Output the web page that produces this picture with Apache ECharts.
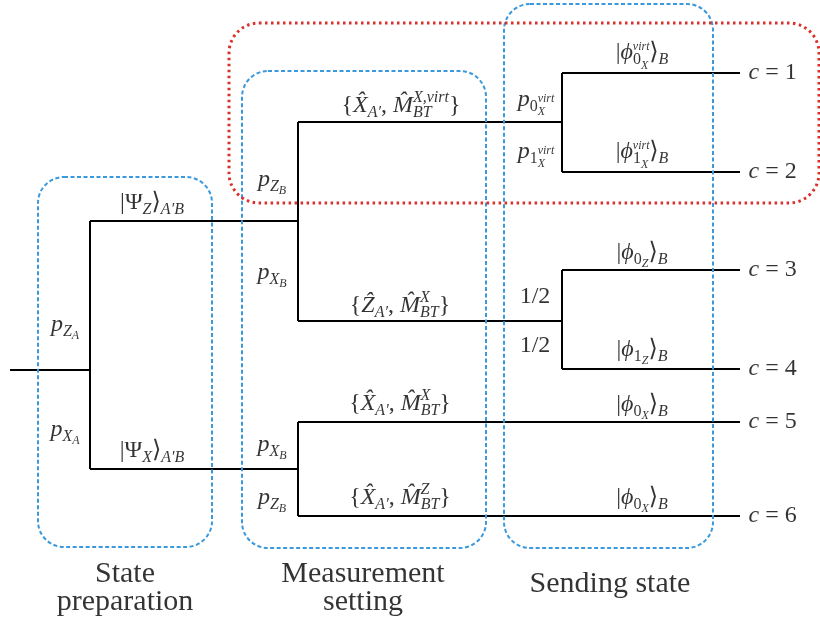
<!DOCTYPE html>
<html><head><meta charset="utf-8">
<script src="https://cdn.jsdelivr.net/npm/echarts@6/dist/echarts.min.js"></script>
<style>html,body{margin:0;padding:0;background:#fff}#c{width:820px;height:620px}</style>
</head><body><div id="c"></div>
<script>
// ---- data ----
const stageX = [10, 90, 298, 562, 740];            // root start, split 1, split 2, split 3, leaf end
const leafY = [73, 172, 270, 369, 422, 516];       // leaf rows c = 1..6
const leafLabels = ['1', '2', '3', '4', '5', '6'];
const tree = {y: 370, children: [
  {y: 221, children: [
    {y: 122, children: [{leaf: 0}, {leaf: 1}]},
    {y: 321, children: [{leaf: 2}, {leaf: 3}]}
  ]},
  {y: 469, children: [{leaf: 4}, {leaf: 5}]}
]};
const branchText = [
  '{r||Ψ}{s|Z}{r|⟩}{s|A′B}',
  '{r||Ψ}{s|X}{r|⟩}{s|A′B}',
  '{i|p}{s|Z}{ss|A}',
  '{i|p}{s|X}{ss|A}',
  '{r|{}{i|X̂}{s|A′}{r|, }{i|M̂}{sz|BT}{sp|X,virt}}',
  '{i|p}{s|Z}{ss|B}',
  '{i|p}{s|X}{ss|B}',
  '{r|{}{i|Ẑ}{s|A′}{r|, }{i|M̂}{spz|X}{s|BT}}',
  '{r|{}{i|X̂}{s|A′}{r|, }{i|M̂}{spz|X}{s|BT}}',
  '{i|p}{s|X}{ss|B}',
  '{i|p}{s|Z}{ss|B}',
  '{r|{}{i|X̂}{s|A′}{r|, }{i|M̂}{spz|Z}{s|BT}}',
  '{i|p}{sr|0}{ssz|X}{pv|virt}',
  '{i|p}{sr|1}{ssz|X}{pv|virt}',
  '{r||}{i|ϕ}{vz|virt}{sr|0}{ssp|X}{r|⟩}{s|B}',
  '{r||}{i|ϕ}{vz|virt}{sr|1}{ssp|X}{r|⟩}{s|B}',
  '{r|1/2}',
  '{r|1/2}',
  '{r||}{i|ϕ}{sr|0}{ss|Z}{r|⟩}{s|B}',
  '{r||}{i|ϕ}{sr|1}{ss|Z}{r|⟩}{s|B}',
  '{r||}{i|ϕ}{sr|0}{ss|X}{r|⟩}{s|B}',
  '{r||}{i|ϕ}{sr|0}{ss|X}{r|⟩}{s|B}'
];
const branchX = [152, 152, 65, 65, 401, 272, 272, 400, 400, 272, 272, 400, 536, 536, 642, 642, 535, 535, 642, 642, 642, 642];
const branchY = [203, 451, 325, 430, 106, 180, 273, 306, 404, 445, 498, 498, 100, 152, 53, 152, 297, 346, 253, 350, 405, 498];
const stageNames = ['State\npreparation', 'Measurement\nsetting', 'Sending state'];
const stageNameX = [125, 363, 610];
const stageNameY = [588, 588, 584];
// boxes: x1, y1, x2, y2, kind (0 = stage box, 1 = virtual group)
const boxes = [
  [38, 177, 212, 547, 0],
  [242, 71, 486, 548, 0],
  [504, 4, 713, 548, 0],
  [229, 23, 819, 203, 1]
];

// ---- build edges ----
const segs = [];
function yOf(n) { return n.leaf != null ? leafY[n.leaf] : n.y; }
function walk(node, depth, fromX) {
  const y = yOf(node);
  const endX = node.leaf != null ? stageX[stageX.length - 1] : stageX[depth + 1];
  segs.push({coords: [[fromX, y], [endX, y]]});
  if (node.children) {
    const ys = node.children.map(yOf);
    segs.push({coords: [[endX, Math.min(...ys)], [endX, Math.max(...ys)]]});
    node.children.forEach(c => walk(c, depth + 1, endX));
  }
}
walk(tree, 0, stageX[0]);

const F = '"Liberation Serif", "DejaVu Serif", serif';
const base = {fontFamily: F, color: '#000', align: 'left', verticalAlign: 'middle'};
const R = (o) => Object.assign({}, base, o);
const rich = {
  r: R({fontSize: 24}),
  i: R({fontSize: 24, fontStyle: 'italic'}),
  s: R({fontSize: 16, fontStyle: 'italic', padding: [13, 0, 0, 0]}),
  sr: R({fontSize: 16, padding: [13, 0, 0, 0]}),
  sz: R({fontSize: 16, fontStyle: 'italic', padding: [13, 0, 0, 0], width: 0.01}),
  sp: R({fontSize: 16, fontStyle: 'italic', padding: [0, 0, 16, 0]}),
  spz: R({fontSize: 16, fontStyle: 'italic', padding: [0, 0, 16, 0], width: 0.01}),
  ss: R({fontSize: 12, fontStyle: 'italic', padding: [22, 0, 0, 0]}),
  ssz: R({fontSize: 12, fontStyle: 'italic', padding: [23, 0, 0, 0], width: 0.01}),
  ssp: R({fontSize: 12, fontStyle: 'italic', padding: [25, 1, 0, 0]}),
  pv: R({fontSize: 12, fontStyle: 'italic', padding: [0, 0, 2, 0]}),
  vz: R({fontSize: 12, fontStyle: 'italic', padding: [0, 0, 13, 0], width: 0.01})
};

const labelData = branchText.map((t, k) => [branchX[k], branchY[k], k]);
const leafData = leafY.map((y, k) => [stageX[stageX.length - 1], y, k]);
const stageData = stageNames.map((t, k) => [stageNameX[k], stageNameY[k], k]);

const chart = echarts.init(document.getElementById('c'), null, {renderer: 'canvas'});
chart.setOption({
  animation: false,
  backgroundColor: '#fff',
  grid: {left: 0, right: 0, top: 0, bottom: 0},
  xAxis: {type: 'value', min: 0, max: 820, show: false},
  yAxis: {type: 'value', min: 0, max: 620, inverse: true, show: false},
  series: [
    {
      type: 'lines', coordinateSystem: 'cartesian2d', silent: true,
      data: segs, lineStyle: {color: '#000', width: 2, opacity: 1}, z: 2
    },
    {
      type: 'custom', silent: true, z: 3,
      data: boxes,
      encode: {x: [0, 2], y: [1, 3]},
      renderItem: function (params, api) {
        const p1 = api.coord([api.value(0), api.value(1)]);
        const p2 = api.coord([api.value(2), api.value(3)]);
        const red = api.value(4) === 1;
        return {
          type: 'rect',
          shape: {x: Math.min(p1[0], p2[0]), y: Math.min(p1[1], p2[1]),
                  width: Math.abs(p2[0] - p1[0]), height: Math.abs(p2[1] - p1[1]), r: red ? 30 : 26},
          style: {fill: 'none', stroke: red ? '#d8302a' : '#3a98dc',
                  lineWidth: red ? 3 : 2, lineDash: red ? [2.5, 3.5] : [4, 2.5]}
        };
      }
    },
    {
      type: 'scatter', silent: true, z: 4, symbolSize: 1,
      itemStyle: {color: 'rgba(0,0,0,0)'},
      data: labelData,
      label: {
        show: true, position: 'inside', color: '#000', fontFamily: F, fontSize: 24,
        textBorderWidth: 0, align: 'center', verticalAlign: 'middle',
        formatter: p => branchText[p.value[2]], rich: rich
      }
    },
    {
      type: 'scatter', silent: true, z: 4, symbolSize: 1,
      itemStyle: {color: 'rgba(0,0,0,0)'},
      data: leafData,
      label: {
        show: true, position: 'right', distance: 8, color: '#000', fontFamily: F, fontSize: 24,
        textBorderWidth: 0,
        formatter: p => '{i|c}{r| = ' + leafLabels[p.value[2]] + '}', rich: rich
      }
    },
    {
      type: 'scatter', silent: true, z: 4, symbolSize: 1,
      itemStyle: {color: 'rgba(0,0,0,0)'},
      data: stageData,
      label: {
        show: true, position: 'inside', color: '#000', fontFamily: F, fontSize: 30, lineHeight: 28,
        textBorderWidth: 0, align: 'center', verticalAlign: 'middle',
        formatter: p => stageNames[p.value[2]]
      }
    }
  ]
});
</script></body></html>
